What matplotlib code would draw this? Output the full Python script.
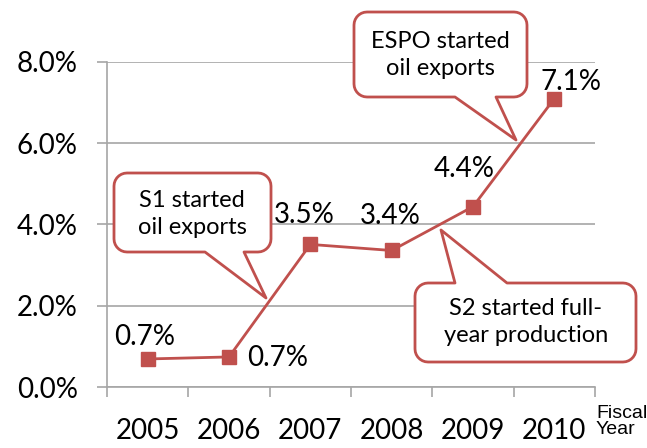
import numpy as np
import matplotlib
matplotlib.use("Agg")
import matplotlib.pyplot as plt
from matplotlib.path import Path
from matplotlib.patches import PathPatch
from matplotlib.transforms import Affine2D

# data
years = ["2005", "2006", "2007", "2008", "2009", "2010"]
share = [0.69, 0.74, 3.51, 3.36, 4.44, 7.10]
share_labels = ["0.7%", "0.7%", "3.5%", "3.4%", "4.4%", "7.1%"]
yticks = [0, 2, 4, 6, 8]
ytick_labels = ["0.0%", "2.0%", "4.0%", "6.0%", "8.0%"]

callout_texts = ["ESPO started\noil exports", "S1 started\noil exports", "S2 started full-\nyear production"]

RED = "#C0504D"
GRID = "#A6A6A6"
W, H = 647, 448

plt.rcParams["font.family"] = ["Lato", "DejaVu Sans"]

fig = plt.figure(figsize=(W / 100, H / 100), dpi=100)
ax = fig.add_axes([107 / W, 1 - 387 / H, 488 / W, 325 / H])

x = np.arange(len(years))
ax.plot(x, share, color=RED, lw=2.0, marker="s", ms=9.5, zorder=3)

ax.set_xlim(-0.5, len(years) - 0.5)
ax.set_ylim(0, 8)
ax.set_yticks(yticks)
ax.set_yticklabels(ytick_labels, fontsize=20)
ax.grid(axis="y", color=GRID, lw=1.2)
ax.set_axisbelow(True)
ax.tick_params(axis="y", length=7, color=GRID, width=1.2, pad=14)

# category boundaries as major ticks, names as minor ticks
ax.set_xticks(np.arange(-0.5, len(years), 1.0))
ax.set_xticklabels([])
ax.set_xticks(x, minor=True)
ax.set_xticklabels(years, minor=True, fontsize=20)
ax.tick_params(axis="x", which="major", length=7, color=GRID, width=1.2)
ax.tick_params(axis="x", which="minor", length=0, pad=22)

for side in ["top", "right"]:
    ax.spines[side].set_visible(False)
for side in ["left", "bottom"]:
    ax.spines[side].set_color(GRID)
    ax.spines[side].set_linewidth(1.2)

# data labels (offsets in points)
offsets = [(-2, 16), (13, -1), (-4, 21), (-1, 25), (-6, 27), (12, 12)]
aligns = ["center", "left", "center", "center", "center", "center"]
for i, (lab, off, ha) in enumerate(zip(share_labels, offsets, aligns)):
    ax.annotate(lab, (x[i], share[i]), xytext=off, textcoords="offset points",
                ha=ha, va="center", fontsize=20)

fig.text(596 / W, 1 - 405 / H, "Fiscal\nYear", fontsize=14, va="top", ha="left",
         family="Liberation Sans", linespacing=0.95)

# callout bubbles, drawn in image pixel coordinates (y down)
px = Affine2D().scale(1, -1).translate(0, H).scale(1 / W, 1 / H) + fig.transFigure


def bubble(x0, y0, x1, y1, side, base_a, base_b, tip, r=13):
    pts = []

    def arc(cx, cy, a0, a1):
        for t in np.linspace(np.radians(a0), np.radians(a1), 8):
            pts.append((cx + r * np.cos(t), cy + r * np.sin(t)))

    # go clockwise on screen (y down): top edge left->right
    arc(x0 + r, y0 + r, 180, 270)
    if side == "top":
        pts += [(base_a, y0), tip, (base_b, y0)]
    arc(x1 - r, y0 + r, 270, 360)
    arc(x1 - r, y1 - r, 0, 90)
    if side == "bottom":
        pts += [(base_b, y1), tip, (base_a, y1)]
    arc(x0 + r, y1 - r, 90, 180)
    pts.append(pts[0])
    codes = [Path.MOVETO] + [Path.LINETO] * (len(pts) - 2) + [Path.CLOSEPOLY]
    patch = PathPatch(Path(pts, codes), transform=px, facecolor="white",
                      edgecolor=RED, lw=2.0, zorder=5, joinstyle="round")
    fig.add_artist(patch)


bubble(354, 12, 527, 97, "bottom", 455, 496, (516, 140))
bubble(114, 173, 271, 252, "bottom", 205, 244, (266, 298))
bubble(415, 283, 636, 362, "top", 455, 507, (441, 230))

text_pos = [(440, 55), (192, 214), (526, 322)]
for t, (tx, ty) in zip(callout_texts, text_pos):
    fig.text(tx / W, 1 - ty / H, t, ha="center", va="center", fontsize=17,
             linespacing=1.3, zorder=6)

fig.savefig("out.png", dpi=100)
